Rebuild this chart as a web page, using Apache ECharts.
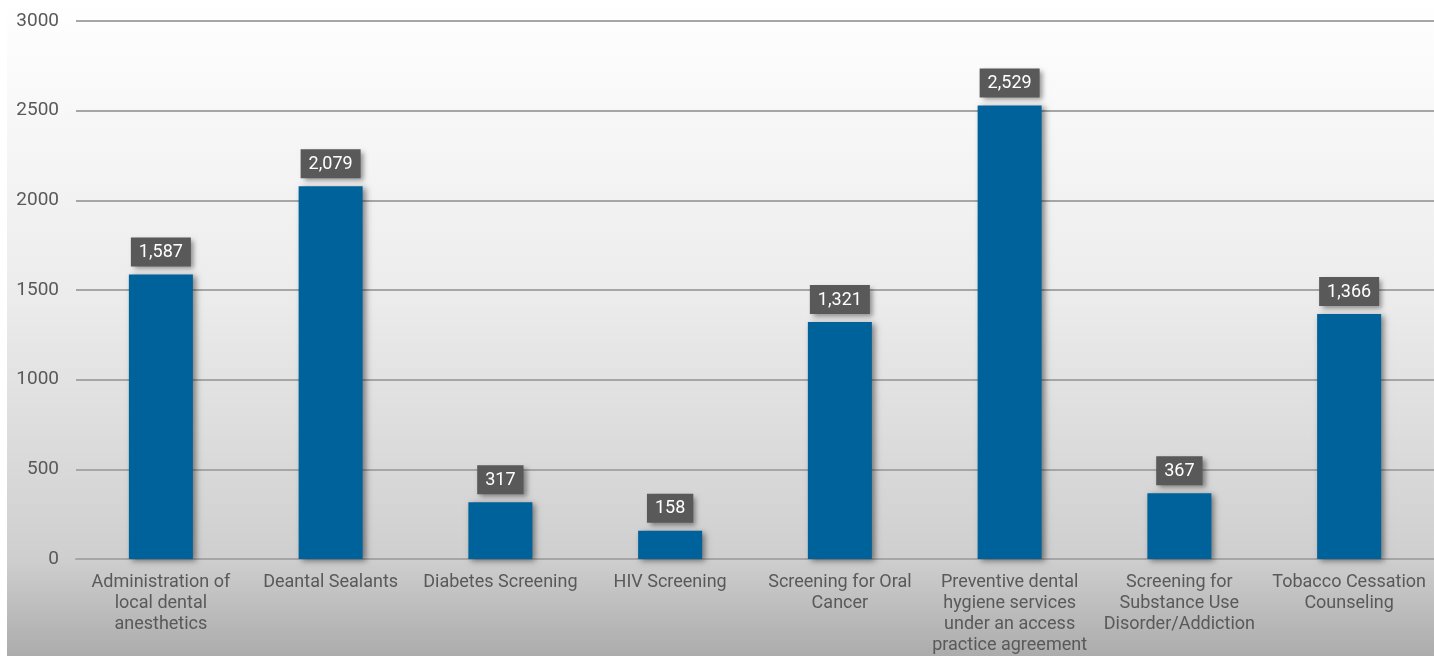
<!DOCTYPE html>
<html>
<head>
<meta charset="utf-8">
<style>
  html, body { margin: 0; padding: 0; background: #ffffff; }
  #chart { width: 1434px; height: 656px; }
</style>
<script src="https://cdn.jsdelivr.net/npm/echarts@6/dist/echarts.min.js"></script>
</head>
<body>
<div id="chart"></div>
<script>
// Services provided, by category
const categories = [
  'Administration of\nlocal dental\nanesthetics',
  'Deantal Sealants',
  'Diabetes Screening',
  'HIV Screening',
  'Screening for Oral\nCancer',
  'Preventive dental\nhygiene services\nunder an access\npractice agreement',
  'Screening for\nSubstance Use\nDisorder/Addiction',
  'Tobacco Cessation\nCounseling'
];
const counts = [1587, 2079, 317, 158, 1321, 2529, 367, 1366];
const yTicks = { min: 0, max: 3000, interval: 500 };

const chart = echarts.init(document.getElementById('chart'), null, { renderer: 'canvas' });
const fmt = v => v.toLocaleString('en-US');

chart.setOption({
  animation: false,
  graphic: [{
    type: 'rect',
    z: -10,
    silent: true,
    shape: { x: 7, y: 0, width: 1427, height: 656 },
    style: {
      fill: new echarts.graphic.LinearGradient(0, 0, 0, 1, [
        { offset: 0, color: '#ffffff' },
        { offset: 0.45, color: '#ececec' },
        { offset: 0.85, color: '#cfcfcf' },
        { offset: 1, color: '#acacac' }
      ])
    }
  }],
  grid: { left: 76, right: 0, top: 21, bottom: 96, containLabel: false },
  xAxis: {
    type: 'category',
    data: categories,
    axisTick: { show: false },
    axisLine: { show: true, lineStyle: { color: '#a6a6a6', width: 2 } },
    axisLabel: {
      interval: 0,
      color: '#595959',
      fontFamily: 'Roboto',
      fontSize: 18,
      lineHeight: 21,
      margin: 13
    }
  },
  yAxis: {
    type: 'value',
    min: yTicks.min,
    max: yTicks.max,
    interval: yTicks.interval,
    axisLine: { show: false },
    axisTick: { show: false },
    splitLine: { lineStyle: { color: '#a6a6a6', width: 2 } },
    axisLabel: {
      color: '#595959',
      fontFamily: 'Roboto',
      fontSize: 19,
      margin: 17,
      formatter: v => String(v)
    }
  },
  series: [{
    type: 'bar',
    data: counts,
    barWidth: 64,
    itemStyle: {
      color: '#00629a',
      shadowColor: 'rgba(0,0,0,0.45)',
      shadowBlur: 6,
      shadowOffsetX: 3,
      shadowOffsetY: 2
    },
    label: {
      show: true,
      position: 'top',
      distance: 8,
      formatter: p => fmt(p.value),
      color: '#ffffff',
      fontFamily: 'Roboto',
      fontSize: 18,
      backgroundColor: '#595959',
      padding: [6, 8, 5, 8],
      shadowColor: 'rgba(0,0,0,0.4)',
      shadowBlur: 5,
      shadowOffsetX: 3,
      shadowOffsetY: 3
    }
  }]
});
</script>
</body>
</html>
